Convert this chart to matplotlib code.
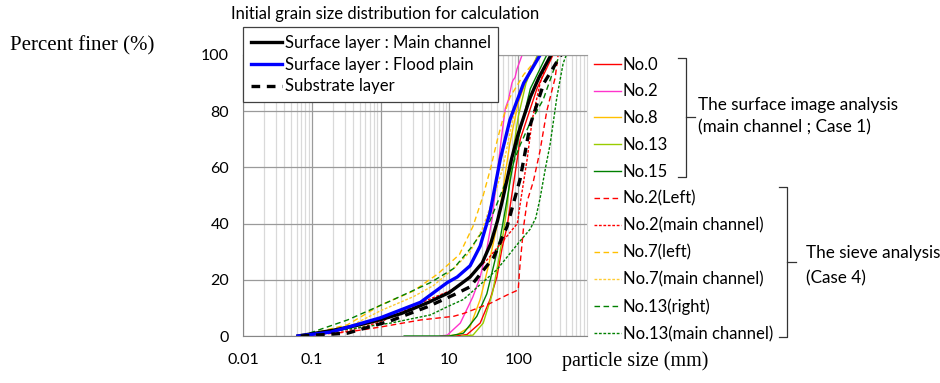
import matplotlib.pyplot as plt
from matplotlib.lines import Line2D
import numpy as np

plt.rcParams['font.family'] = ['Lato', 'DejaVu Sans']

# grain size (mm) and percent finer
main_d = [0.063, 0.1, 0.2, 0.5, 1, 2, 5, 10, 20, 30, 40, 50, 60, 80, 100, 150, 200, 300]
main_p = [0, 0.8, 2, 4, 5.8, 8, 12, 15.5, 21, 26, 33, 41, 49, 63, 72, 85, 92, 100]
flood_d = [0.063, 0.19, 1, 3.8, 9.3, 13, 20, 28, 39, 55, 76, 120, 208]
flood_p = [0, 1.4, 6.5, 12, 19, 21, 25, 32, 44, 63, 77, 90, 100]
sub_d = [0.069, 0.33, 1.4, 4.8, 11.5, 20, 44, 69, 107, 149, 236, 420]
sub_p = [0, 1, 5.4, 10.4, 14.6, 17.5, 28, 39, 56, 75, 90, 100]

no0_d = [12, 18, 28, 39, 49, 58, 69, 107, 187, 320]
no0_p = [0, 0.5, 4.6, 13, 21, 31, 39, 70, 88, 100]
no2_d = [7.4, 9.3, 14.4, 22, 28, 35, 42, 52, 58, 65, 72, 81, 84, 90, 96, 114]
no2_p = [0, 0.3, 4.6, 14, 21, 31, 42, 62, 72, 81, 84, 90, 91, 92, 95, 100]
no8_d = [9.3, 13, 20, 28, 37, 49, 60, 75, 100, 150, 200]
no8_p = [0, 0.5, 3.3, 13, 25, 39, 52, 68, 83, 95, 100]
no13_d = [15, 22, 31, 42, 52, 61, 69, 80, 100, 130, 190]
no13_p = [0, 0.3, 4.6, 15, 27, 37, 46, 62, 78, 90, 100]
no15_d = [2.2, 10, 16, 25, 35, 44, 55, 65, 80, 100, 150, 260]
no15_p = [0, 0, 1, 7, 15, 25, 35, 45, 58, 70, 88, 100]

s2l_d = [0.07, 0.33, 1, 3.8, 11.5, 16, 39, 69, 100, 106, 120, 135, 166, 208, 260, 345, 380]
s2l_p = [0, 1.4, 3.2, 5.7, 7, 8, 11.6, 14.6, 16.4, 25, 39, 48, 55, 66, 80, 92, 100]
s2m_d = [0.07, 0.3, 1, 4, 10, 16, 22, 35, 61, 97, 110, 135, 160, 208, 270, 300]
s2m_p = [0, 1.5, 5, 12, 16, 19, 22.5, 27, 34, 40, 49, 63, 77, 90, 98, 100]
s7l_d = [0.07, 0.33, 1, 3, 6.7, 14, 22, 31, 40, 50, 61, 76, 120, 208]
s7l_p = [0, 4, 11, 16, 22, 29, 39, 50, 60, 70, 78, 85, 93, 100]
s7m_d = [0.07, 0.33, 1, 3, 5.9, 11.5, 20, 30, 45, 60, 80, 100, 150, 200]
s7m_p = [0, 3, 9, 14, 18, 24, 30, 38, 50, 60, 75, 85, 95, 100]
s13r_d = [0.07, 0.33, 1.26, 5.3, 11.5, 20, 28, 39, 69, 107, 150, 230, 320, 400]
s13r_p = [0, 5.7, 12, 19, 24, 31, 36, 41, 56, 68, 76, 84, 94, 100]
s13m_d = [0.07, 1.4, 5.3, 9.3, 16, 49, 100, 149, 180, 208, 250, 290, 365, 450, 500]
s13m_p = [0, 4.6, 7.5, 10.4, 13, 23.6, 33, 38, 42, 49, 60, 68, 85, 97, 100]

yticks = [0, 20, 40, 60, 80, 100]
xticks = [0.01, 0.1, 1, 10, 100]
xtick_labels = ['0.01', '0.1', '1', '10', '100']

LONG = (4, 2.5)
SHORT = (2, 1.2)
series = [
    ('No.0', no0_d, no0_p, '#FF0000', None),
    ('No.2', no2_d, no2_p, '#FF33CC', None),
    ('No.8', no8_d, no8_p, '#FFC000', None),
    ('No.13', no13_d, no13_p, '#99CC00', None),
    ('No.15', no15_d, no15_p, '#008000', None),
    ('No.2(Left)', s2l_d, s2l_p, '#FF0000', LONG),
    ('No.2(main channel)', s2m_d, s2m_p, '#FF0000', SHORT),
    ('No.7(left)', s7l_d, s7l_p, '#FFC000', LONG),
    ('No.7(main channel)', s7m_d, s7m_p, '#FFCC33', SHORT),
    ('No.13(right)', s13r_d, s13r_p, '#008000', LONG),
    ('No.13(main channel)', s13m_d, s13m_p, '#008000', SHORT),
]

fig = plt.figure(figsize=(9.4, 3.83), dpi=100)
ax = fig.add_axes([243 / 940, 47 / 383, 344 / 940, 281 / 383])

handles = []
for name, d, p, col, dash in series:
    if dash is None:
        ln, = ax.plot(d, p, color=col, lw=1.0, label=name)
    else:
        ln, = ax.plot(d, p, color=col, lw=1.0, dashes=dash, label=name)
    handles.append(ln)

h1, = ax.plot(main_d, main_p, color='black', lw=2.4, label='Surface layer : Main channel')
h2, = ax.plot(flood_d, flood_p, color='#0000FF', lw=2.4, label='Surface layer : Flood plain')
h3, = ax.plot(sub_d, sub_p, color='black', lw=2.4, dashes=(2.6, 2), label='Substrate layer')

ax.set_xscale('log')
ax.set_xlim(0.01, 1000)
ax.set_ylim(0, 100)
ax.set_yticks(yticks)
ax.set_xticks(xticks)
ax.set_xticklabels(xtick_labels)
ax.minorticks_on()
ax.grid(True, which='major', axis='both', color='#9A9A9A', lw=0.9)
ax.grid(True, which='minor', axis='x', color='#D9D9D9', lw=0.9)
ax.set_axisbelow(True)
ax.tick_params(which='both', length=0, labelsize=11.5, colors='black')
ax.tick_params(axis='y', pad=10)
ax.tick_params(axis='x', pad=12)
for s in ['left', 'bottom']:
    ax.spines[s].set_color('#868686')
ax.spines['top'].set_color('#9A9A9A')
ax.spines['right'].set_color('#D9D9D9')

leg1 = ax.legend(handles=[h1, h2, h3], loc='upper left', bbox_to_anchor=(0, 1.0996), fontsize=12,
                 frameon=True, fancybox=False, edgecolor='#404040', framealpha=1,
                 handlelength=1.86, handletextpad=0.18, labelspacing=0.35, borderpad=0.46,
                 borderaxespad=0)
leg1.get_frame().set_linewidth(0.9)
ax.add_artist(leg1)

ax.legend(handles=handles, loc='upper left', bbox_to_anchor=(1.0, 1.018), fontsize=12,
          frameon=False, handlelength=1.62, handletextpad=0.12, labelspacing=0.65,
          borderaxespad=0)

fig.text(385 / 940, 1 - 14 / 383, 'Initial grain size distribution for calculation',
         ha='center', va='center', fontsize=12)
fig.text(10 / 940, 1 - 46 / 383, 'Percent finer (%)', ha='left', va='center',
         fontsize=15, family='Liberation Serif')
fig.text(562 / 940, 1 - 361 / 383, 'particle size (mm)', ha='left', va='center',
         fontsize=14.5, family='Liberation Serif')


def bracket(x0, x1, y0, y1, xt):
    # right-facing bracket drawn in figure pixels
    px = [x0, x1, x1, x0]
    py = [y0, y0, y1, y1]
    fig.add_artist(Line2D(np.array(px) / 940, 1 - np.array(py) / 383, color='#333333', lw=0.9))
    ym = (y0 + y1) / 2
    fig.add_artist(Line2D(np.array([x1, xt]) / 940, 1 - np.array([ym, ym]) / 383,
                          color='#333333', lw=0.9))


bracket(678, 686, 58, 177, 695)
bracket(779, 787, 187, 337, 796)
fig.text(698 / 940, 1 - 105 / 383, 'The surface image analysis', va='center', fontsize=12.3)
fig.text(698 / 940, 1 - 127 / 383, '(main channel ; Case 1)', va='center', fontsize=12.3)
fig.text(806 / 940, 1 - 253 / 383, 'The sieve analysis', va='center', fontsize=12.3)
fig.text(806 / 940, 1 - 278 / 383, '(Case 4)', va='center', fontsize=12.3)

fig.savefig('out.png', dpi=100)
